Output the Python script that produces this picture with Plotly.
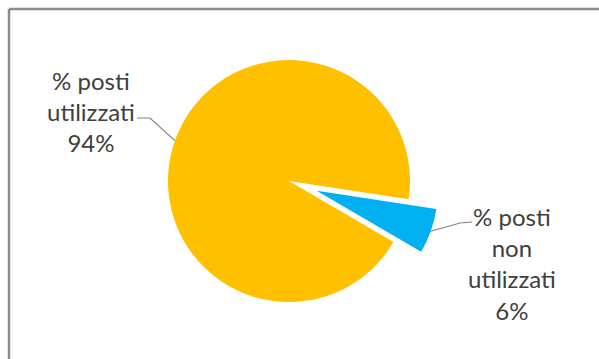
import math
import plotly.graph_objects as go

# ---- data ----
categories = ["% posti non utilizzati", "% posti utilizzati"]
values = [6, 94]
label_lines = [["% posti", "non", "utilizzati", "6%"], ["% posti", "utilizzati", "94%"]]
colors = ["#00B0F0", "#FFC000"]
pulls = [0.243, 0]

W, H = 599, 359
ROT = 98.7  # start angle of first slice, degrees clockwise from 12 o'clock

def px(x):
    return x / W

def py(y):
    return 1 - y / H

# pie geometry (pixels)
cx, cy, r = 289, 181, 121
half = r * (1 + max(pulls))

fig = go.Figure(go.Pie(
    labels=categories,
    values=values,
    marker=dict(colors=colors, line=dict(width=0)),
    pull=pulls,
    sort=False,
    direction="clockwise",
    rotation=ROT,
    textinfo="none",
    hoverinfo="skip",
    showlegend=False,
    domain=dict(x=[px(cx - half), px(cx + half)], y=[py(cy + half), py(cy - half)]),
))

# leader-line tips computed from slice mid-angles
total = sum(values)
start = ROT
tips = []
for v, p in zip(values, pulls):
    span = 360 * v / total
    mid = math.radians(start + span / 2)
    start += span
    dist = r * (1 + p)
    tips.append((cx + dist * math.sin(mid), cy - dist * math.cos(mid)))

font = dict(family="Lato, Carlito, sans-serif", size=24, color="#404040")

# label blocks (center pixel positions)
label_pos = [(512, 263), (91, 112)]
# leader-line elbow points: (text end, elbow)
elbows = [((472, 222), (460, 223)), ((137, 118), (150, 118))]

annotations = []
shapes = []
for lines, (lx, ly), tip, (tend, elb) in zip(label_lines, label_pos, tips, elbows):
    annotations.append(dict(
        text="<br>".join(lines), x=px(lx), y=py(ly), xref="paper", yref="paper",
        xanchor="center", yanchor="middle", showarrow=False, font=font, align="center",
    ))
    shapes.append(dict(
        type="path", xref="paper", yref="paper",
        path=f"M {px(tend[0])} {py(tend[1])} L {px(elb[0])} {py(elb[1])} L {px(tip[0])} {py(tip[1])}",
        line=dict(color="#7F7F7F", width=1.2),
    ))

# chart border (only top and left edges visible in the crop)
shapes.append(dict(type="line", xref="paper", yref="paper", x0=px(9), y0=py(9), x1=1.0, y1=py(9),
                   line=dict(color="#8C8C8C", width=2.5)))
shapes.append(dict(type="line", xref="paper", yref="paper", x0=px(9), y0=py(9), x1=px(9), y1=0.0,
                   line=dict(color="#8C8C8C", width=2.5)))

fig.update_layout(
    width=W, height=H,
    margin=dict(l=0, r=0, t=0, b=0),
    paper_bgcolor="white", plot_bgcolor="white",
    annotations=annotations, shapes=shapes,
)

fig.write_html(
    "out.html",
    config={"displayModeBar": False},
    post_script="document.body.style.margin='0';document.body.style.overflow='hidden';",
)
